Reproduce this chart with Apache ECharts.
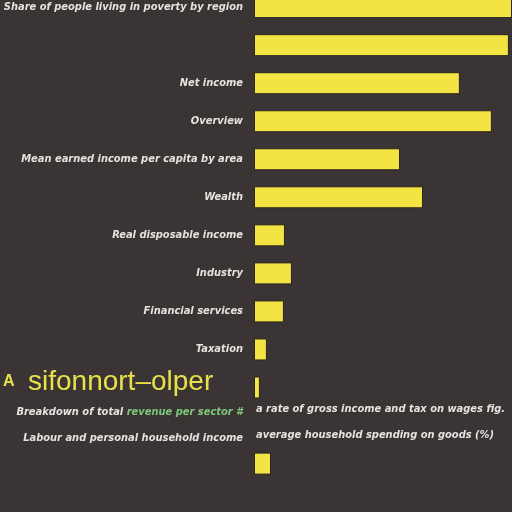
<!DOCTYPE html>
<html>
<head>
<meta charset="utf-8">
<script src="https://cdn.jsdelivr.net/npm/echarts@6/dist/echarts.min.js"></script>
<style>html,body{margin:0;padding:0;background:#3a3534;}#c{width:512px;height:512px;}</style>
</head>
<body>
<div id="c"></div>
<script>
const categories = [
  'Share of people living in poverty by region',
  '',
  'Net income',
  'Overview',
  'Mean earned income per capita by area',
  'Wealth',
  'Real disposable income',
  'Industry',
  'Financial services',
  'Taxation',
  '',
  'Breakdown of total {g|revenue per sector #}\nLabour and personal household income',
  'Agriculture'
];
const values = [100, 98.8, 79.8, 92.2, 56.6, 65.5, 12.0, 14.7, 11.6, 5.0, 2.3, null, 6.6];
const annotationTitle = 'sifonnort–olper';
const annotationMark = 'A';
const noteLines = [
  'a rate of gross income and tax on wages fig.',
  'average household spending on goods (%)'
];

const chart = echarts.init(document.getElementById('c'), null, {renderer: 'canvas'});
const font = "'Liberation Sans Narrow', 'DejaVu Sans Condensed', 'Liberation Sans', sans-serif";
chart.setOption({
  backgroundColor: '#3a3534',
  animation: false,
  grid: {left: 254, right: 0, top: -11.9, bottom: 29.4, containLabel: false, outerBoundsMode: 'none'},
  xAxis: {
    type: 'value', min: 0, max: 100,
    axisLine: {show: false}, axisTick: {show: false},
    axisLabel: {show: false}, splitLine: {show: false}
  },
  yAxis: {
    type: 'category', data: categories, inverse: true,
    axisLine: {show: false}, axisTick: {show: false},
    axisLabel: {
      color: '#e6e2de', fontSize: 11, fontWeight: 'bold', fontStyle: 'italic',
      fontFamily: font, margin: 11, lineHeight: 26,
      rich: {g: {color: '#7cc87a', fontSize: 11, fontWeight: 'bold', fontStyle: 'italic', fontFamily: font}}
    }
  },
  series: [{
    type: 'bar', data: values, barWidth: 22,
    itemStyle: {color: '#f3e343', borderColor: '#2a2520', borderWidth: 1}
  }],
  graphic: [
    {type: 'text', left: 3, top: 374, style: {text: annotationMark, fill: '#e8e04a', font: "bold 16px 'Liberation Sans', sans-serif"}},
    {type: 'text', left: 28, top: 368, style: {text: annotationTitle, fill: '#e8e04a', font: "28px 'Liberation Sans', sans-serif"}},
    {type: 'text', left: 256, top: 404, style: {text: noteLines[0], fill: '#e6e2de', font: "italic bold 11px " + font}},
    {type: 'text', left: 256, top: 430, style: {text: noteLines[1], fill: '#e6e2de', font: "italic bold 11px " + font}}
  ]
});
</script>
</body>
</html>
